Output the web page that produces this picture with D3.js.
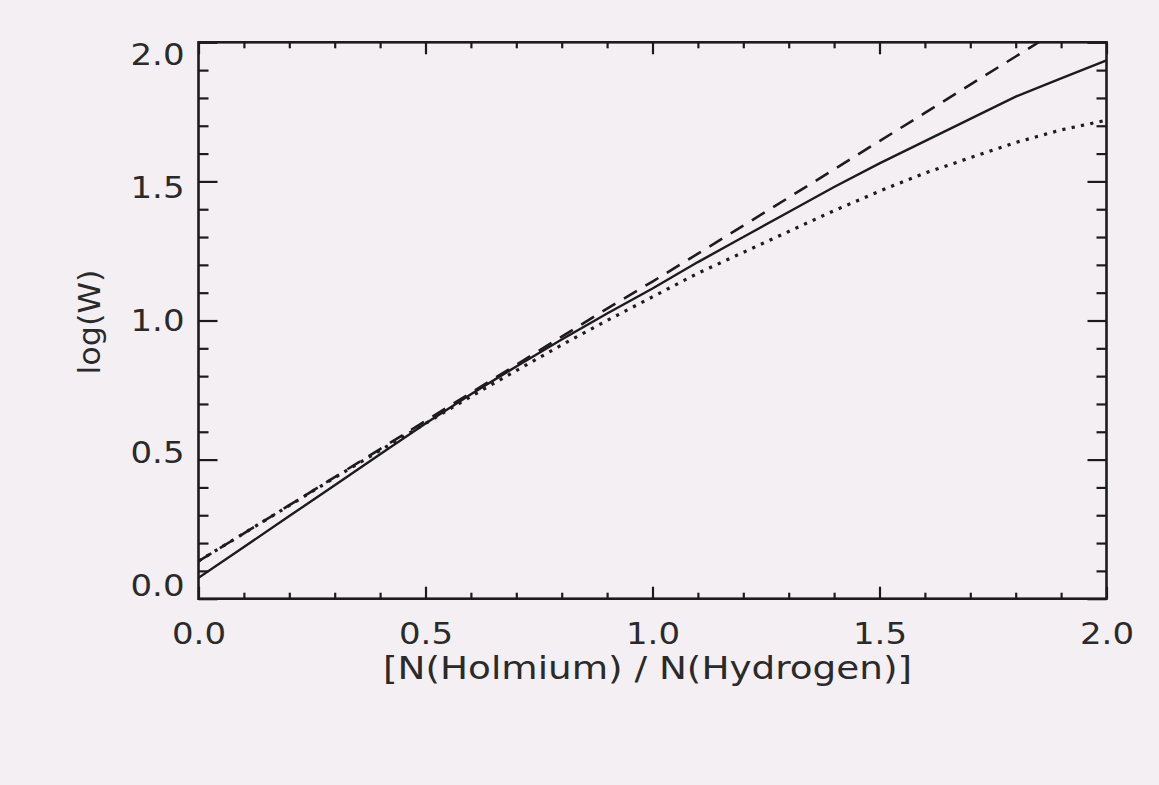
<!DOCTYPE html>
<html>
<head>
<meta charset="utf-8">
<script src="https://cdn.jsdelivr.net/npm/d3@7"></script>
<style>
  body { margin: 0; background: #f4eff3; }
  text { font-family: "DejaVu Sans", sans-serif; fill: #2a2a2a; }
</style>
</head>
<body>
<svg id="chart" width="1159" height="785"></svg>
<script>
// abundance values along the x axis
const xValues = [0.0, 0.1, 0.2, 0.3, 0.4, 0.5, 0.6, 0.7, 0.8, 0.9, 1.0,
                 1.1, 1.2, 1.3, 1.4, 1.5, 1.6, 1.7, 1.8, 1.9, 2.0];

// solid curve
const solidW = [0.075, 0.186, 0.297, 0.408, 0.519, 0.63, 0.735, 0.835, 0.932, 1.025, 1.115,
                1.21, 1.30, 1.39, 1.48, 1.565, 1.645, 1.725, 1.805, 1.87, 1.935];
// dashed curve
const dashedW = [0.135, 0.235, 0.336, 0.437, 0.538, 0.639, 0.740, 0.841, 0.942, 1.043, 1.140,
                 1.240, 1.341, 1.442, 1.543, 1.645, 1.746, 1.848, 1.949, 2.05, 2.15];
// dotted curve
const dottedW = [0.135, 0.235, 0.335, 0.435, 0.533, 0.63, 0.727, 0.82, 0.912, 1.0, 1.085,
                 1.17, 1.245, 1.32, 1.395, 1.465, 1.53, 1.585, 1.64, 1.685, 1.72];

const majorTicks = [0.0, 0.5, 1.0, 1.5, 2.0];
const minorTicks = [0.1, 0.2, 0.3, 0.4, 0.6, 0.7, 0.8, 0.9, 1.1, 1.2, 1.3, 1.4,
                    1.6, 1.7, 1.8, 1.9];

const xTitle = "[N(Holmium) / N(Hydrogen)]";
const yTitle = "log(W)";

const width = 1159, height = 785;
const ink = "#1c1c1c";

const svg = d3.select("#chart");
svg.append("rect").attr("width", width).attr("height", height).attr("fill", "#f4eff3");

const x = d3.scaleLinear().domain([0, 2]).range([198.5, 1106.5]);
const y = d3.scaleLinear().domain([0, 2]).range([598.7, 42.3]);
// the printed labels sit slightly inside the tick span
const yLab = d3.scaleLinear().domain([0, 2]).range([586, 55]);

svg.append("clipPath").attr("id", "plot-clip")
  .append("rect")
  .attr("x", x(0)).attr("y", y(2))
  .attr("width", x(2) - x(0)).attr("height", y(0) - y(2));

function tickGroup(axis, transform) {
  const g = svg.append("g").attr("transform", transform).call(axis);
  g.select(".domain").remove();
  g.selectAll(".tick line").attr("stroke", ink).attr("stroke-width", 2.2);
  return g;
}

// ticks on all four sides, pointing inward
tickGroup(d3.axisBottom(x).tickValues(minorTicks).tickSize(-6).tickFormat(""), `translate(0,${y(0)})`);
tickGroup(d3.axisBottom(x).tickValues(majorTicks).tickSize(-12).tickFormat(""), `translate(0,${y(0)})`);
tickGroup(d3.axisTop(x).tickValues(minorTicks).tickSize(-6).tickFormat(""), `translate(0,${y(2)})`);
tickGroup(d3.axisTop(x).tickValues(majorTicks).tickSize(-12).tickFormat(""), `translate(0,${y(2)})`);
tickGroup(d3.axisLeft(y).tickValues(minorTicks).tickSize(-10).tickFormat(""), `translate(${x(0)},0)`);
tickGroup(d3.axisLeft(y).tickValues(majorTicks).tickSize(-19).tickFormat(""), `translate(${x(0)},0)`);
tickGroup(d3.axisRight(y).tickValues(minorTicks).tickSize(-10).tickFormat(""), `translate(${x(2)},0)`);
tickGroup(d3.axisRight(y).tickValues(majorTicks).tickSize(-19).tickFormat(""), `translate(${x(2)},0)`);

// tick labels
const fmt = d3.format(".1f");
const xl = svg.append("g").attr("transform", `translate(0,${y(0)})`)
  .call(d3.axisBottom(x).tickValues(majorTicks).tickSize(0).tickPadding(24).tickFormat(fmt));
xl.select(".domain").remove();
const yl = svg.append("g").attr("transform", `translate(${x(0)},0)`)
  .call(d3.axisLeft(yLab).tickValues(majorTicks).tickSize(0).tickPadding(14).tickFormat(fmt));
yl.select(".domain").remove();
svg.selectAll(".tick text")
  .attr("font-family", "DejaVu Sans, sans-serif")
  .attr("font-size", 30)
  .attr("fill", "#2e2e2e")
  .attr("textLength", 54)
  .attr("lengthAdjust", "spacingAndGlyphs");

// frame
svg.append("rect")
  .attr("x", x(0)).attr("y", y(2))
  .attr("width", x(2) - x(0)).attr("height", y(0) - y(2))
  .attr("fill", "none").attr("stroke", ink).attr("stroke-width", 2.6);

// curves
const series = [
  { values: solidW, dash: null, w: 2.4 },
  { values: dashedW, dash: "15,10", w: 2.6 },
  { values: dottedW, dash: "3.2,6.3", w: 3.2 }
];
const line = d3.line().x(d => x(d[0])).y(d => y(d[1]));
const curves = svg.append("g").attr("clip-path", "url(#plot-clip)");
series.forEach(s => {
  curves.append("path")
    .datum(xValues.map((v, i) => [v, s.values[i]]))
    .attr("d", line)
    .attr("fill", "none")
    .attr("stroke", ink)
    .attr("stroke-width", s.w)
    .attr("stroke-linecap", "butt")
    .attr("stroke-dasharray", s.dash);
});

// axis titles
svg.append("text")
  .attr("x", (x(0) + x(2)) / 2 - 5)
  .attr("y", 679)
  .attr("text-anchor", "middle")
  .attr("font-size", 32)
  .attr("fill", "#2e2e2e")
  .attr("textLength", 529)
  .attr("lengthAdjust", "spacingAndGlyphs")
  .text(xTitle);

svg.append("text")
  .attr("transform", "translate(100,322) rotate(-90)")
  .attr("text-anchor", "middle")
  .attr("font-size", 30)
  .attr("fill", "#2e2e2e")
  .attr("textLength", 105)
  .attr("lengthAdjust", "spacingAndGlyphs")
  .text(yTitle);
</script>
</body>
</html>
